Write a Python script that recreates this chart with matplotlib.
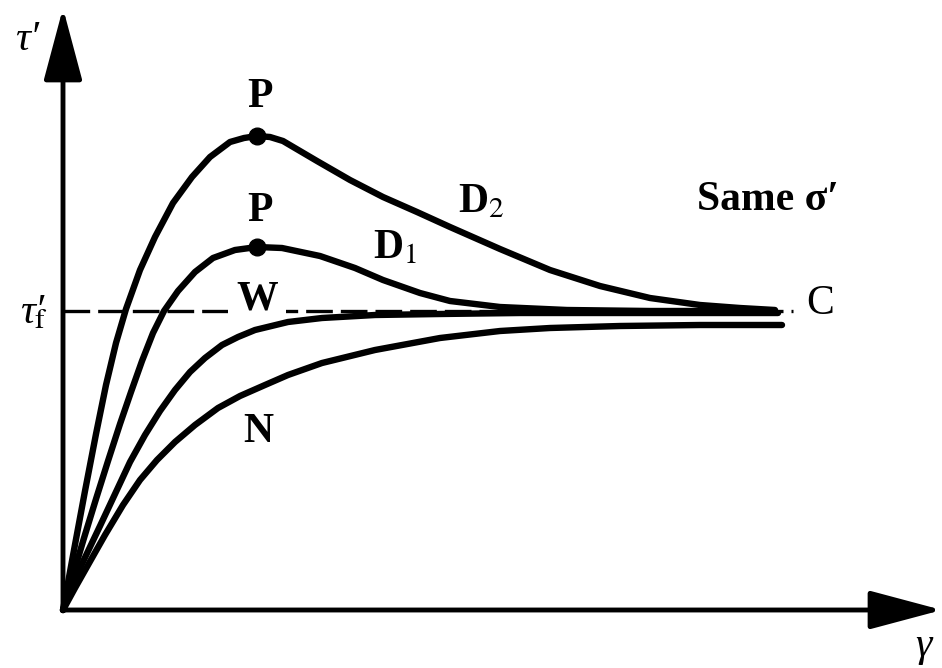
import matplotlib.pyplot as plt
from matplotlib.patches import FancyArrowPatch

plt.rcParams['mathtext.fontset'] = 'stix'
plt.rcParams['font.family'] = ['Liberation Serif', 'DejaVu Serif']

# shear strain (gamma) vs shear stress (tau'), same normal effective stress
d2_gamma = [0, 11, 22, 33, 43, 53, 63, 77, 92, 110, 129, 147, 167, 181, 194,
            207, 220, 237, 254, 287, 320, 354, 387, 437, 487, 537, 587, 637, 677, 712]
d2_tau = [0, 60, 119, 176, 225, 267, 301, 340, 373, 407, 433, 453, 468, 472, 474,
          473, 469, 459, 449, 430, 413, 398, 383, 361, 340, 324, 312, 305, 302, 300]

d1_gamma = [0, 10, 21, 33, 45, 57, 68, 79, 90, 101, 115, 132, 150, 172, 194,
            219, 257, 292, 320, 357, 387, 437, 504, 587, 709]
d1_tau = [0, 35, 72, 111, 149, 186, 218, 249, 277, 299, 319, 338, 352, 360, 363,
          362, 354, 342, 330, 317, 309, 303, 300, 299, 299]

w_gamma = [0, 17, 37, 52, 67, 82, 97, 112, 127, 142, 159, 175, 192, 225, 259,
           312, 377, 457, 577, 715]
w_tau = [0, 42, 84, 116, 148, 175, 199, 220, 238, 252, 265, 273, 280, 288, 292,
         295, 296, 297, 297, 297]

n_gamma = [0, 12, 25, 42, 60, 77, 94, 112, 132, 155, 177, 202, 225, 259, 312,
           377, 437, 487, 557, 637, 719]
n_tau = [0, 22, 45, 75, 105, 130, 150, 168, 185, 202, 214, 225, 235, 247, 260,
         272, 279, 282, 284, 285, 285]

# peak points
peak_gamma = [194, 194]
peak_tau = [474, 363]

# critical state (ultimate) stress
tau_f = 299
tau_f_end = 730

fig = plt.figure(figsize=(9.42, 6.68), dpi=100)
ax = fig.add_axes([0, 0, 1, 1])
ax.set_xlim(-63, 879)
ax.set_ylim(-58, 610)
ax.axis('off')

curve_kw = dict(color='black', lw=4.6, solid_capstyle='round',
                solid_joinstyle='round', zorder=3)
ax.plot(d2_gamma, d2_tau, **curve_kw)
ax.plot(d1_gamma, d1_tau, **curve_kw)
ax.plot(w_gamma, w_tau, **curve_kw)
ax.plot(n_gamma, n_tau, **curve_kw)
ax.plot(peak_gamma, peak_tau, 'o', color='black', markersize=12, zorder=4)

ax.plot([0, tau_f_end], [tau_f, tau_f], color='black', lw=2.4,
        linestyle=(0, (8, 2.4)), zorder=1)

# axes with arrow heads
arrow_style = '-|>,head_length=4.5,head_width=1.2'
for end in [(879, 0), (0, 602)]:
    ax.add_patch(FancyArrowPatch((0, 0), end, arrowstyle=arrow_style,
                                 mutation_scale=10, lw=3.5, color='black',
                                 shrinkA=0, shrinkB=0, zorder=3))

fs = 30
ax.text(-48, 560, 'τ′', fontsize=fs, fontstyle='italic', ha='left', va='baseline')
# tau'_f with the subscript tucked under the prime
ax.text(-43, 287, r'τ′$_{\!\!\!\mathrm{f}}$', fontsize=fs, fontstyle='italic',
        ha='left', va='baseline')
ax.text(860, -46, 'γ', fontsize=fs, fontstyle='italic', ha='center', va='baseline')

ax.text(197, 513, 'P', fontsize=fs, fontweight='bold', ha='center', va='center')
ax.text(197, 399, 'P', fontsize=fs, fontweight='bold', ha='center', va='center')
ax.text(194, 311, 'W', fontsize=fs, fontweight='bold', ha='center', va='center',
        zorder=2, bbox=dict(facecolor='white', edgecolor='none', pad=6))
ax.text(195, 178, 'N', fontsize=fs, fontweight='bold', ha='center', va='center')
ax.text(395, 398, r'D$_2$', fontsize=fs, fontweight='bold', ha='left', va='baseline')
ax.text(310, 352, r'D$_1$', fontsize=fs, fontweight='bold', ha='left', va='baseline')
ax.text(634, 400, 'Same σ′', fontsize=fs, fontweight='bold', ha='left', va='baseline')
ax.text(757, 306, 'C', fontsize=fs, ha='center', va='center')

fig.savefig('out.png', dpi=100)
